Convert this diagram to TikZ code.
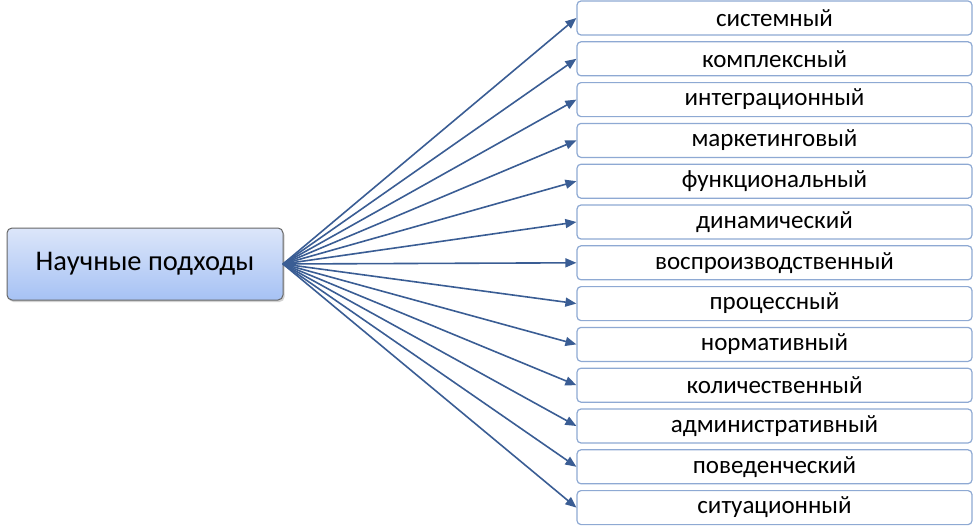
\documentclass[tikz,border=0pt]{standalone}
\usepackage{fontspec}
\setmainfont{Carlito}
\usetikzlibrary{arrows.meta,shadows}
\definecolor{arrowblue}{HTML}{3A5D94}
\definecolor{boxline}{HTML}{8EA9D3}
\definecolor{topblue}{HTML}{DCE6FA}
\definecolor{botblue}{HTML}{A6C2F4}
\tikzset{
  item/.style={draw=boxline, line width=1.2pt, fill=white, rounded corners=4pt,
    minimum width=395pt, minimum height=34pt, inner sep=0pt,
    font=\fontsize{25}{30}\selectfont},
  root/.style={draw=gray!80!black, line width=1pt, rounded corners=5pt,
    top color=topblue, bottom color=botblue, minimum width=276pt, minimum height=72pt,
    inner sep=0pt, font=\fontsize{28.5}{34}\selectfont,
    drop shadow={shadow xshift=1.5pt, shadow yshift=-2pt, fill=black!35}},
  link/.style={draw=arrowblue, line width=1.6pt, -{Triangle[length=11pt,width=9pt]}}
}
\begin{document}
\begin{tikzpicture}[x=1pt,y=-1pt]
\useasboundingbox (0,0) rectangle (974,527);
\node[root] (r) at (145,264) {Научные подходы};
\coordinate (s) at (283,264);
\foreach \t [count=\i] in {системный,комплексный,интеграционный,маркетинговый,функциональный,динамический,воспроизводственный,процессный,нормативный,количественный,административный,поведенческий,ситуационный}{
  \node[item] (b\i) at (774.5,{18+(\i-1)*40.8}) {\t};
  \draw[link] (s) -- (b\i.west);
}
\end{tikzpicture}
\end{document}
